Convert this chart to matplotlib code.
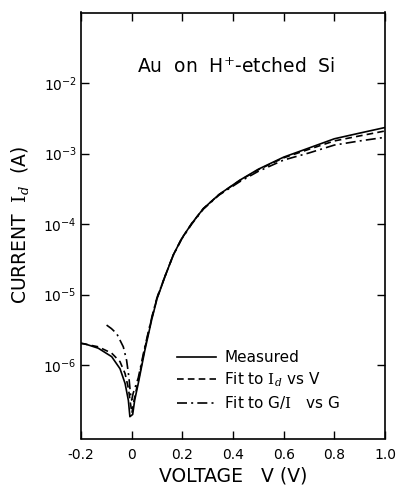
import matplotlib
matplotlib.use("Agg")
import matplotlib.pyplot as plt
from matplotlib.ticker import FixedLocator, NullLocator, LogFormatterMathtext

plt.rcParams['font.family'] = ['DejaVu Sans']
plt.rcParams['mathtext.fontset'] = 'dejavuserif'

# Measured
v_meas = [-0.200, -0.184, -0.132, -0.079, -0.046, -0.026, -0.013, -0.007, 0.004, 0.012,
          0.026, 0.052, 0.079, 0.100, 0.131, 0.164, 0.197, 0.237, 0.283, 0.345,
          0.427, 0.500, 0.600, 0.700, 0.800, 0.900, 1.000]
i_meas = [2.04e-6, 2.00e-6, 1.74e-6, 1.32e-6, 8.9e-7, 5.5e-7, 3.16e-7, 1.86e-7, 2.0e-7, 3.2e-7,
          5.5e-7, 1.62e-6, 4.4e-6, 8.7e-6, 1.78e-5, 3.63e-5, 6.2e-5, 1.02e-4, 1.66e-4, 2.63e-4,
          4.2e-4, 6.0e-4, 8.9e-4, 1.20e-3, 1.62e-3, 1.95e-3, 2.34e-3]

# Fit to Id vs V
v_fit1 = [-0.200, -0.132, -0.079, -0.046, -0.026, -0.013, -0.005, 0.001, 0.008, 0.026,
          0.052, 0.079, 0.100, 0.131, 0.164, 0.197, 0.237, 0.283, 0.345, 0.427,
          0.500, 0.600, 0.700, 0.800, 0.900, 1.000]
i_fit1 = [2.04e-6, 1.82e-6, 1.48e-6, 1.12e-6, 7.6e-7, 4.7e-7, 2.9e-7, 2.1e-7, 3.0e-7, 6.0e-7,
          1.74e-6, 4.6e-6, 8.9e-6, 1.8e-5, 3.63e-5, 6.2e-5, 1.02e-4, 1.66e-4, 2.62e-4, 4.15e-4,
          5.9e-4, 8.7e-4, 1.15e-3, 1.51e-3, 1.78e-3, 2.09e-3]

# Fit to G/I vs G
v_fit2 = [-0.099, -0.080, -0.059, -0.033, -0.020, -0.011, -0.005, 0.000, 0.006, 0.026,
          0.052, 0.079, 0.100, 0.131, 0.164, 0.197, 0.237, 0.283, 0.345, 0.427,
          0.500, 0.600, 0.700, 0.800, 0.900, 1.000]
i_fit2 = [3.7e-6, 3.3e-6, 2.8e-6, 1.82e-6, 1.17e-6, 6.8e-7, 4.0e-7, 3.2e-7, 4.0e-7, 6.6e-7,
          1.82e-6, 4.7e-6, 9.1e-6, 1.8e-5, 3.6e-5, 6.1e-5, 1.0e-4, 1.63e-4, 2.58e-4, 4.0e-4,
          5.6e-4, 8.1e-4, 1.02e-3, 1.32e-3, 1.51e-3, 1.70e-3]

x_ticks = [-0.2, 0.0, 0.2, 0.4, 0.6, 0.8, 1.0]
x_tick_labels = ["-0.2", "0", "0.2", "0.4", "0.6", "0.8", "1.0"]
y_ticks = [1e-6, 1e-5, 1e-4, 1e-3, 1e-2]

fig = plt.figure(figsize=(3.96, 4.92), dpi=100)
ax = fig.add_axes([81/396, 1-438.5/492, 304/396, 426/492])

lw = 1.2
ax.plot(v_meas, i_meas, color='black', lw=lw, linestyle='-', label='Measured')
ax.plot(v_fit1, i_fit1, color='black', lw=lw, linestyle=(0, (4, 2.5)),
        label=r'Fit to $\mathrm{I}_d$ vs V')
ax.plot(v_fit2, i_fit2, color='black', lw=lw, linestyle=(0, (6, 2.5, 1.2, 2.5)),
        label=r'Fit to G/$\mathrm{I}$   vs G')

ax.set_yscale('log')
ax.set_xlim(-0.2, 1.0)
ax.set_ylim(10**-7.04, 1e-1)

ax.xaxis.set_major_locator(FixedLocator(x_ticks))
ax.set_xticklabels(x_tick_labels)
ax.yaxis.set_major_locator(FixedLocator(y_ticks))
ax.yaxis.set_major_formatter(LogFormatterMathtext())
ax.yaxis.set_minor_locator(NullLocator())
ax.xaxis.set_minor_locator(NullLocator())

ax.tick_params(axis='both', which='major', direction='in', length=6, width=1,
               top=True, right=True, labelsize=10)
ax.tick_params(axis='x', pad=7)
ax.tick_params(axis='y', pad=3)
for s in ax.spines.values():
    s.set_linewidth(1.2)

ax.set_xlabel('VOLTAGE   V (V)', fontsize=13.5, labelpad=3)
ax.set_ylabel(r'CURRENT  $\mathrm{I}_d$  (A)', fontsize=13.5, labelpad=9)

ax.text(0.51, 0.872, r'Au  on  H$^{+}$-etched  Si', transform=ax.transAxes,
        ha='center', va='center', fontsize=13.5)

ax.legend(loc='upper left', bbox_to_anchor=(0.315, 0.207), frameon=False,
          fontsize=11, handlelength=2.6, handletextpad=0.5, labelspacing=0.35,
          borderpad=0, borderaxespad=0)

fig.savefig('out.png', dpi=100)
